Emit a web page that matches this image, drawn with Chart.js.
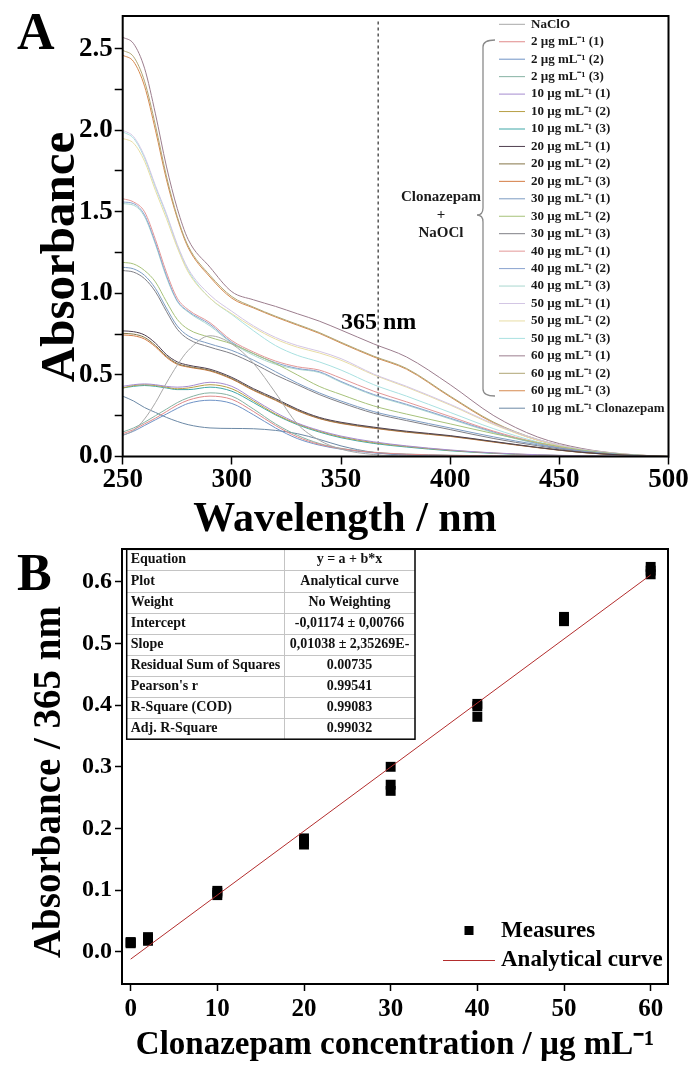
<!DOCTYPE html>
<html>
<head>
<meta charset="utf-8">
<script src="https://cdn.jsdelivr.net/npm/chart.js@4.4.1/dist/chart.umd.min.js"></script>
<style>
  html, body { margin: 0; padding: 0; background: #fff; }
  #wrap { position: relative; width: 691px; height: 1068px; overflow: hidden; background: #fff; }
  #wrap canvas { position: absolute; left: 0; }
  #chartA { top: 0; }
  #chartB { top: 534px; }
</style>
</head>
<body>
<div id="wrap">
  <canvas id="chartA" width="691" height="545"></canvas>
  <canvas id="chartB" width="691" height="534"></canvas>
</div>
<script>
// Panel A - UV-Vis spectra
const wavelengths = [250, 255, 260, 265, 270, 275, 280, 290, 300, 310, 320, 330, 340, 350, 365, 380, 400, 420, 440, 460, 480, 500];

const naclo   = [0.13, 0.16, 0.23, 0.33, 0.45, 0.56, 0.65, 0.74, 0.69, 0.57, 0.39, 0.20, 0.10, 0.045, 0.012, 0.004, 0.001, 0, 0, 0, 0, 0];
const c2_1    = [0.14, 0.165, 0.20, 0.235, 0.275, 0.315, 0.345, 0.37, 0.35, 0.275, 0.19, 0.12, 0.075, 0.048, 0.025, 0.014, 0.007, 0.004, 0.002, 0.001, 0, 0];
const c2_2    = [0.13, 0.155, 0.19, 0.225, 0.26, 0.295, 0.325, 0.345, 0.325, 0.255, 0.175, 0.11, 0.07, 0.045, 0.022, 0.012, 0.006, 0.003, 0.002, 0.001, 0, 0];
const c2_3    = [0.15, 0.175, 0.21, 0.25, 0.29, 0.33, 0.36, 0.39, 0.37, 0.29, 0.20, 0.13, 0.08, 0.05, 0.026, 0.015, 0.008, 0.004, 0.002, 0.001, 0, 0];
const c10_1   = [0.43, 0.44, 0.445, 0.44, 0.43, 0.425, 0.43, 0.455, 0.43, 0.35, 0.27, 0.205, 0.16, 0.125, 0.09, 0.065, 0.04, 0.022, 0.011, 0.005, 0.002, 0];
const c10_2   = [0.42, 0.435, 0.44, 0.435, 0.425, 0.415, 0.42, 0.44, 0.415, 0.34, 0.26, 0.20, 0.155, 0.12, 0.085, 0.062, 0.038, 0.021, 0.01, 0.004, 0.001, 0];
const c10_3   = [0.42, 0.43, 0.435, 0.43, 0.42, 0.41, 0.41, 0.425, 0.40, 0.33, 0.255, 0.195, 0.15, 0.115, 0.08, 0.058, 0.035, 0.019, 0.009, 0.004, 0.001, 0];
const c20_1   = [0.77, 0.765, 0.745, 0.695, 0.625, 0.58, 0.56, 0.535, 0.485, 0.415, 0.355, 0.29, 0.24, 0.21, 0.18, 0.155, 0.128, 0.092, 0.056, 0.026, 0.008, 0];
const c20_2   = [0.755, 0.75, 0.73, 0.68, 0.615, 0.57, 0.552, 0.528, 0.478, 0.408, 0.348, 0.284, 0.235, 0.205, 0.176, 0.151, 0.125, 0.09, 0.055, 0.025, 0.008, 0];
const c20_3   = [0.745, 0.74, 0.72, 0.672, 0.608, 0.565, 0.548, 0.524, 0.474, 0.404, 0.344, 0.28, 0.232, 0.202, 0.173, 0.149, 0.123, 0.088, 0.054, 0.025, 0.008, 0];
const c30_1   = [1.16, 1.15, 1.11, 1.03, 0.91, 0.80, 0.74, 0.69, 0.65, 0.59, 0.52, 0.45, 0.39, 0.34, 0.275, 0.23, 0.175, 0.12, 0.072, 0.034, 0.011, 0];
const c30_2   = [1.19, 1.18, 1.14, 1.07, 0.95, 0.84, 0.78, 0.73, 0.69, 0.63, 0.57, 0.50, 0.43, 0.38, 0.31, 0.26, 0.20, 0.14, 0.085, 0.04, 0.013, 0];
const c30_3   = [1.14, 1.13, 1.09, 1.01, 0.89, 0.78, 0.72, 0.67, 0.63, 0.57, 0.50, 0.44, 0.38, 0.33, 0.265, 0.22, 0.165, 0.11, 0.066, 0.03, 0.01, 0];
const c40_1   = [1.58, 1.56, 1.50, 1.33, 1.13, 0.97, 0.90, 0.82, 0.71, 0.64, 0.585, 0.55, 0.53, 0.48, 0.40, 0.335, 0.245, 0.155, 0.085, 0.036, 0.012, 0];
const c40_2   = [1.56, 1.55, 1.48, 1.31, 1.11, 0.955, 0.89, 0.81, 0.70, 0.63, 0.575, 0.54, 0.52, 0.46, 0.38, 0.32, 0.235, 0.15, 0.08, 0.034, 0.011, 0];
const c40_3   = [1.55, 1.54, 1.47, 1.30, 1.10, 0.95, 0.885, 0.80, 0.695, 0.62, 0.565, 0.535, 0.515, 0.455, 0.375, 0.315, 0.23, 0.145, 0.078, 0.033, 0.011, 0];
const c50_1   = [2.00, 1.96, 1.84, 1.66, 1.49, 1.30, 1.15, 0.99, 0.89, 0.80, 0.73, 0.68, 0.645, 0.60, 0.505, 0.43, 0.32, 0.20, 0.105, 0.045, 0.015, 0];
const c50_2   = [1.95, 1.92, 1.81, 1.63, 1.46, 1.28, 1.13, 0.97, 0.875, 0.79, 0.72, 0.67, 0.635, 0.59, 0.50, 0.425, 0.315, 0.195, 0.10, 0.043, 0.014, 0];
const c50_3   = [1.99, 1.95, 1.83, 1.65, 1.48, 1.29, 1.14, 0.97, 0.87, 0.77, 0.68, 0.62, 0.58, 0.53, 0.44, 0.37, 0.27, 0.17, 0.09, 0.038, 0.012, 0];
const c60_1   = [2.57, 2.53, 2.38, 2.10, 1.78, 1.52, 1.33, 1.16, 1.01, 0.96, 0.92, 0.875, 0.83, 0.775, 0.69, 0.61, 0.44, 0.25, 0.12, 0.05, 0.015, 0];
const c60_2   = [2.49, 2.45, 2.30, 2.03, 1.72, 1.47, 1.29, 1.11, 0.98, 0.915, 0.86, 0.81, 0.76, 0.70, 0.615, 0.54, 0.37, 0.21, 0.105, 0.045, 0.014, 0];
const c60_3   = [2.46, 2.42, 2.27, 2.00, 1.70, 1.46, 1.28, 1.10, 0.97, 0.91, 0.855, 0.805, 0.755, 0.695, 0.61, 0.535, 0.365, 0.205, 0.10, 0.043, 0.013, 0];
const clonaz  = [0.37, 0.34, 0.30, 0.27, 0.24, 0.215, 0.195, 0.175, 0.172, 0.17, 0.16, 0.14, 0.105, 0.065, 0.025, 0.008, 0.002, 0, 0, 0, 0, 0];

const spectraLabels = [
  'NaClO',
  '2 µg mL⁻¹ (1)', '2 µg mL⁻¹ (2)', '2 µg mL⁻¹ (3)',
  '10 µg mL⁻¹ (1)', '10 µg mL⁻¹ (2)', '10 µg mL⁻¹ (3)',
  '20 µg mL⁻¹ (1)', '20 µg mL⁻¹ (2)', '20 µg mL⁻¹ (3)',
  '30 µg mL⁻¹ (1)', '30 µg mL⁻¹ (2)', '30 µg mL⁻¹ (3)',
  '40 µg mL⁻¹ (1)', '40 µg mL⁻¹ (2)', '40 µg mL⁻¹ (3)',
  '50 µg mL⁻¹ (1)', '50 µg mL⁻¹ (2)', '50 µg mL⁻¹ (3)',
  '60 µg mL⁻¹ (1)', '60 µg mL⁻¹ (2)', '60 µg mL⁻¹ (3)',
  '10 µg mL⁻¹ Clonazepam'
];
const spectraSeries = [naclo, c2_1, c2_2, c2_3, c10_1, c10_2, c10_3, c20_1, c20_2, c20_3,
  c30_1, c30_2, c30_3, c40_1, c40_2, c40_3, c50_1, c50_2, c50_3, c60_1, c60_2, c60_3, clonaz];
const spectraColors = [
  '#a8a8a8',
  '#e08a8a', '#6f93c6', '#86b3a3',
  '#a58ccf', '#b79f45', '#3fa7a7',
  '#4f3f4f', '#857648', '#d47b43',
  '#7d9cc2', '#a7c27a', '#7f7f86',
  '#e39797', '#89a3cf', '#a9d8cf',
  '#d3c6e4', '#e8dda4', '#a9e1e1',
  '#9c7e8e', '#b0a675', '#d68a4f',
  '#6c89a6'
];
const markerWavelength = 367;

// Panel B - calibration at 365 nm
const concentrations = [0, 0, 0, 2, 2, 2, 10, 10, 10, 20, 20, 20, 30, 30, 30, 40, 40, 40, 50, 50, 50, 60, 60, 60];
const absorbance365 = [0.014, 0.015, 0.016, 0.018, 0.021, 0.024, 0.092, 0.096, 0.099, 0.174, 0.179, 0.184,
  0.300, 0.271, 0.261, 0.402, 0.398, 0.381, 0.536, 0.540, 0.543, 0.612, 0.618, 0.624];
const fitConc = [0, 60];
const fitAbs = [-0.0117, 0.611];

const tableLabels = ['Equation', 'Plot', 'Weight', 'Intercept', 'Slope', 'Residual Sum of Squares',
  "Pearson's r", 'R-Square (COD)', 'Adj. R-Square'];
const tableValues = ['y = a + b*x', 'Analytical curve', 'No Weighting', '-0,01174 ± 0,00766',
  '0,01038 ± 2,35269E-', '0.00735', '0.99541', '0.99083', '0.99032'];

const SERIF = "'Liberation Serif', 'Times New Roman', serif";
Chart.defaults.font.family = SERIF;
Chart.defaults.color = '#000';

// box around the plot area
const framePlugin = {
  id: 'frame',
  afterDraw(chart) {
    const { ctx, chartArea: a } = chart;
    ctx.save();
    ctx.strokeStyle = '#000';
    ctx.lineWidth = 2;
    ctx.strokeRect(a.left, a.top, a.right - a.left, a.bottom - a.top);
    ctx.restore();
  }
};

function axisTicks(len) {
  return { drawOnChartArea: false, drawTicks: true, tickLength: len, tickColor: '#000', tickWidth: 1.5, color: '#000' };
}

function verticalText(ctx, text, x, y, font) {
  ctx.save();
  ctx.translate(x, y);
  ctx.rotate(-Math.PI / 2);
  ctx.textAlign = 'center';
  ctx.textBaseline = 'middle';
  ctx.font = font;
  ctx.fillStyle = '#000';
  ctx.fillText(text, 0, 0);
  ctx.restore();
}

// panel A extras: marker line, labels, legend and bracket
const panelAPlugin = {
  id: 'panelA',
  beforeDatasetsDraw(chart) {
    const { ctx, chartArea: a, scales } = chart;
    const x = scales.x.getPixelForValue(markerWavelength);
    ctx.save();
    ctx.strokeStyle = '#000';
    ctx.lineWidth = 1;
    ctx.setLineDash([3, 3]);
    ctx.beginPath();
    ctx.moveTo(x, a.bottom);
    ctx.lineTo(x, a.top + 4);
    ctx.stroke();
    ctx.restore();
  },
  afterDraw(chart) {
    const { ctx } = chart;
    ctx.save();
    ctx.fillStyle = '#000';
    ctx.font = 'bold 52px ' + SERIF;
    ctx.textBaseline = 'alphabetic';
    ctx.fillText('A', 17, 49);

    ctx.font = 'bold 24px ' + SERIF;
    ctx.fillText('365 nm', 341, 329);

    // axis titles
    verticalText(ctx, 'Absorbance', 61, 257, 'bold 49px ' + SERIF);
    ctx.save();
    ctx.textAlign = 'center';
    ctx.textBaseline = 'middle';
    ctx.font = 'bold 42px ' + SERIF;
    ctx.fillText('Wavelength / nm', 345, 520);
    ctx.restore();

    // legend
    ctx.font = 'bold 13px ' + SERIF;
    ctx.textBaseline = 'middle';
    ctx.textAlign = 'left';
    chart.data.datasets.forEach((ds, i) => {
      const y = 24.3 + i * 17.45;
      ctx.strokeStyle = ds.borderColor;
      ctx.lineWidth = 1;
      ctx.beginPath();
      ctx.moveTo(499, y);
      ctx.lineTo(525, y);
      ctx.stroke();
      ctx.fillStyle = '#1a1a1a';
      ctx.fillText(ds.label, 531, y);
    });

    // bracket grouping the mixtures
    ctx.strokeStyle = '#8a8a8a';
    ctx.lineWidth = 1.3;
    ctx.beginPath();
    ctx.moveTo(495, 40);
    ctx.quadraticCurveTo(483, 40, 483, 47);
    ctx.lineTo(483, 208);
    ctx.quadraticCurveTo(483, 215, 477, 215);
    ctx.quadraticCurveTo(483, 215, 483, 222);
    ctx.lineTo(483, 389);
    ctx.quadraticCurveTo(483, 396, 495, 396);
    ctx.stroke();

    ctx.fillStyle = '#1a1a1a';
    ctx.textAlign = 'center';
    ctx.font = 'bold 15px ' + SERIF;
    ctx.fillText('Clonazepam', 441, 197);
    ctx.fillText('+', 441, 215);
    ctx.fillText('NaOCl', 441, 233);
    ctx.restore();
  }
};

const chartA = new Chart(document.getElementById('chartA'), {
  type: 'line',
  data: {
    datasets: spectraSeries.map((vals, i) => ({
      label: spectraLabels[i],
      data: wavelengths.map((w, j) => ({ x: w, y: vals[j] })),
      borderColor: spectraColors[i],
      borderWidth: 1,
      pointRadius: 0,
      cubicInterpolationMode: 'monotone',
      fill: false
    }))
  },
  options: {
    responsive: false,
    animation: false,
    devicePixelRatio: 1,
    layout: { padding: { top: 16, right: 22.5, left: 0, bottom: 0 } },
    plugins: { legend: { display: false }, tooltip: { enabled: false } },
    scales: {
      x: {
        type: 'linear',
        min: 250,
        max: 500,
        afterFit: s => { s.height = 545 - 456.5; },
        border: { display: false },
        grid: axisTicks(8),
        ticks: {
          stepSize: 50,
          includeBounds: false,
          maxRotation: 0,
          padding: 2,
          font: { size: 27, weight: 'bold', lineHeight: 1 },
          callback: v => v.toFixed(0)
        }
      },
      y: {
        min: 0,
        max: 2.7,
        afterFit: s => { s.width = 122.7; },
        border: { display: false },
        grid: axisTicks(8),
        ticks: {
          stepSize: 0.25,
          includeBounds: false,
          padding: 2,
          font: { size: 27, weight: 'bold', lineHeight: 1 },
          callback: v => (Math.abs(v * 2 - Math.round(v * 2)) < 1e-6 ? v.toFixed(1) : '')
        }
      }
    }
  },
  plugins: [framePlugin, panelAPlugin]
});

// panel B extras: results table, legend, letter, y title
const panelBPlugin = {
  id: 'panelB',
  afterDraw(chart) {
    const { ctx } = chart;
    ctx.save();
    ctx.fillStyle = '#000';
    ctx.font = 'bold 52px ' + SERIF;
    ctx.fillText('B', 17, 56);

    verticalText(ctx, 'Absorbance / 365 nm', 50, 248, 'bold 39px ' + SERIF);

    // fit results table
    const left = 126.7, right = 415, top = 15.3, rowH = 21.1, mid = 284;
    const bottom = top + rowH * tableLabels.length;
    ctx.fillStyle = '#fff';
    ctx.fillRect(left, top, right - left, bottom - top);
    ctx.strokeStyle = '#c4c4c4';
    ctx.lineWidth = 1;
    ctx.beginPath();
    for (let i = 1; i < tableLabels.length; i++) {
      const y = Math.round(top + i * rowH) + 0.5;
      ctx.moveTo(left, y);
      ctx.lineTo(right, y);
    }
    ctx.moveTo(mid + 0.5, top);
    ctx.lineTo(mid + 0.5, bottom);
    ctx.stroke();
    ctx.strokeStyle = '#000';
    ctx.lineWidth = 1.5;
    ctx.strokeRect(left, top, right - left, bottom - top);

    ctx.fillStyle = '#111';
    ctx.font = 'bold 14px ' + SERIF;
    ctx.textBaseline = 'middle';
    tableLabels.forEach((t, i) => {
      const y = top + rowH * (i + 0.5);
      ctx.textAlign = 'left';
      ctx.fillText(t, left + 4, y);
      ctx.textAlign = 'center';
      ctx.fillText(tableValues[i], (mid + right) / 2, y);
    });

    // legend
    const items = chart.data.datasets;
    const meas = items.find(d => d.label === 'Measures');
    const fit = items.find(d => d.label === 'Analytical curve');
    ctx.fillStyle = meas.backgroundColor;
    ctx.fillRect(464.5, 392, 9, 9);
    ctx.strokeStyle = fit.borderColor;
    ctx.lineWidth = 1;
    ctx.beginPath();
    ctx.moveTo(443, 426.5);
    ctx.lineTo(495, 426.5);
    ctx.stroke();
    ctx.fillStyle = '#000';
    ctx.textAlign = 'left';
    ctx.font = 'bold 23px ' + SERIF;
    ctx.fillText(meas.label, 501, 397);
    ctx.fillText(fit.label, 501, 426);
    ctx.restore();
  }
};

const chartB = new Chart(document.getElementById('chartB'), {
  type: 'scatter',
  data: {
    datasets: [
      {
        type: 'line',
        label: 'Analytical curve',
        data: fitConc.map((c, i) => ({ x: c, y: fitAbs[i] })),
        borderColor: '#b32d2d',
        borderWidth: 1,
        pointRadius: 0,
        order: 0
      },
      {
        type: 'scatter',
        label: 'Measures',
        data: concentrations.map((c, i) => ({ x: c, y: absorbance365[i] })),
        pointStyle: 'rect',
        pointRadius: 7,
        backgroundColor: '#000',
        borderColor: '#000',
        borderWidth: 0,
        order: 1
      }
    ]
  },
  options: {
    responsive: false,
    animation: false,
    devicePixelRatio: 1,
    layout: { padding: { top: 9, right: 23, left: 0, bottom: 0 } },
    plugins: { legend: { display: false }, tooltip: { enabled: false } },
    scales: {
      x: {
        type: 'linear',
        min: -1,
        max: 62,
        afterFit: s => { s.height = 534 - 450; },
        border: { display: false },
        grid: axisTicks(7),
        ticks: {
          stepSize: 10,
          includeBounds: false,
          maxRotation: 0,
          padding: 6,
          font: { size: 25, weight: 'bold', lineHeight: 1 },
          callback: v => v.toFixed(0)
        },
        title: {
          display: true,
          text: 'Clonazepam concentration / µg mL⁻¹',
          font: { size: 33, weight: 'bold', lineHeight: 1 },
          padding: { top: 0, bottom: 6 }
        }
      },
      y: {
        min: -0.052,
        max: 0.653,
        afterFit: s => { s.width = 122; },
        border: { display: false },
        grid: axisTicks(7),
        ticks: {
          stepSize: 0.1,
          includeBounds: false,
          padding: 3,
          font: { size: 24, weight: 'bold', lineHeight: 1 },
          callback: v => v.toFixed(1)
        }
      }
    }
  },
  plugins: [framePlugin, panelBPlugin]
});
</script>
</body>
</html>
